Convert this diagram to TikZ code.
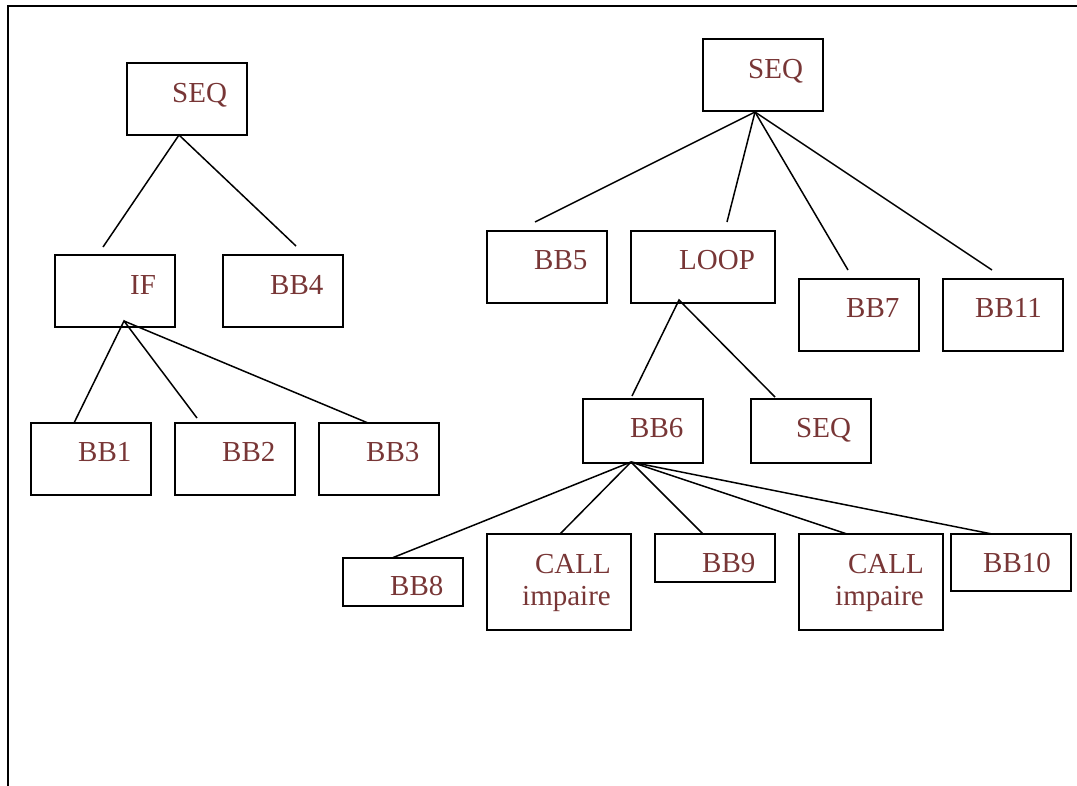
\documentclass[tikz,border=0pt]{standalone}
\usepackage{fontspec}
\setmainfont{Liberation Serif}
\definecolor{lbl}{RGB}{120,54,54}
\begin{document}
\begin{tikzpicture}[x=1pt,y=-1pt,
  box/.style={draw, line width=1.6pt, inner sep=0pt},
  wide/.style={minimum width=120pt},
  wider/.style={minimum width=144pt},
  tall/.style={minimum height=72pt},
  mid/.style={minimum height=64pt},
  low/.style={minimum height=48pt},
  txt/.style={anchor=base west, text=lbl, inner sep=0pt,
    font=\fontsize{29}{33}\selectfont},
  rtxt/.style={txt, anchor=base east},
  edge/.style={line width=1.5pt}]
\useasboundingbox (0,0) rectangle (1077,785);

% outer frame
\draw[line width=2.4pt] (8,786) -- (8,6) -- (1078,6);

% ---------- left tree ----------
\node[box,wide,tall] (seqA) at (187,99) {};
\node[txt] (seqAt) at (172,102) {SEQ};
\node[box,wide,tall] (if) at (115,291) {};
\node[txt] (ift) at (130,294) {IF};
\node[box,wide,tall] (bb4) at (283,291) {};
\node[txt] (bb4t) at (270,294) {BB4};
\node[box,wide,tall] (bb1) at (91,459) {};
\node[txt] (bb1t) at (78,461) {BB1};
\node[box,wide,tall] (bb2) at (235,459) {};
\node[txt] (bb2t) at (222,461) {BB2};
\node[box,wide,tall] (bb3) at (379,459) {};
\node[txt] (bb3t) at (366,461) {BB3};

\coordinate (seqAr) at (179,135);
\coordinate (ifin) at (103,247);
\coordinate (bb4in) at (296,246);
\coordinate (ifr) at (124,321);
\coordinate (bb1in) at (74,423);
\coordinate (bb2in) at (197,418);
\coordinate (bb3in) at (368,423);

\draw[edge] (ifin) -- (seqAr) -- (bb4in);
\draw[edge] (bb1in) -- (ifr) -- (bb2in);
\draw[edge] (ifr) -- (bb3in);

% ---------- right tree ----------
\node[box,wide,tall] (seqB) at (763,75) {};
\node[txt] (seqBt) at (748,78) {SEQ};
\node[box,wide,tall] (bb5) at (547,267) {};
\node[txt] (bb5t) at (534,269) {BB5};
\node[box,wider,tall] (loop) at (703,267) {};
\node[txt] (loopt) at (679,269) {LOOP};
\node[box,wide,tall] (bb7) at (859,315) {};
\node[txt] (bb7t) at (846,317) {BB7};
\node[box,wide,tall] (bb11) at (1003,315) {};
\node[txt] (bb11t) at (975,317) {BB11};
\node[box,wide,mid] (bb6) at (643,431) {};
\node[txt] (bb6t) at (630,437) {BB6};
\node[box,wide,mid] (seqC) at (811,431) {};
\node[txt] (seqCt) at (796,437) {SEQ};
\node[box,wide,low] (bb8) at (403,582) {};
\node[txt] (bb8t) at (390,595) {BB8};
\node[box,wider,minimum height=96pt] (callA) at (559,582) {};
\node[rtxt] (callAt) at (611,573) {CALL};
\node[rtxt] (callAi) at (611,605) {impaire};
\node[box,wide,low] (bb9) at (715,558) {};
\node[txt] (bb9t) at (702,572) {BB9};
\node[box,wider,minimum height=96pt] (callB) at (871,582) {};
\node[rtxt] (callBt) at (924,573) {CALL};
\node[rtxt] (callBi) at (924,605) {impaire};
\node[box,wide,minimum height=57pt] (bb10) at (1011,562.5) {};
\node[txt] (bb10t) at (983,572) {BB10};

\coordinate (seqBr) at (755,112);
\coordinate (bb5in) at (535,222);
\coordinate (loopin) at (727,222);
\coordinate (bb7in) at (848,270);
\coordinate (bb11in) at (992,270);
\coordinate (loopr) at (679,300);
\coordinate (bb6in) at (632,396);
\coordinate (seqCin) at (775,397);
\coordinate (bb6r) at (631,462);
\coordinate (bb8in) at (392,558);
\coordinate (callAin) at (560,534);
\coordinate (bb9in) at (703,534);
\coordinate (callBin) at (847,534);
\coordinate (bb10in) at (992,534);

\draw[edge] (seqBr) -- (bb5in);
\draw[edge] (seqBr) -- (loopin);
\draw[edge] (seqBr) -- (bb7in);
\draw[edge] (seqBr) -- (bb11in);
\draw[edge] (bb6in) -- (loopr) -- (seqCin);
\draw[edge] (bb6r) -- (bb8in);
\draw[edge] (bb6r) -- (callAin);
\draw[edge] (bb6r) -- (bb9in);
\draw[edge] (bb6r) -- (callBin);
\draw[edge] (bb6r) -- (bb10in);
\end{tikzpicture}
\end{document}
